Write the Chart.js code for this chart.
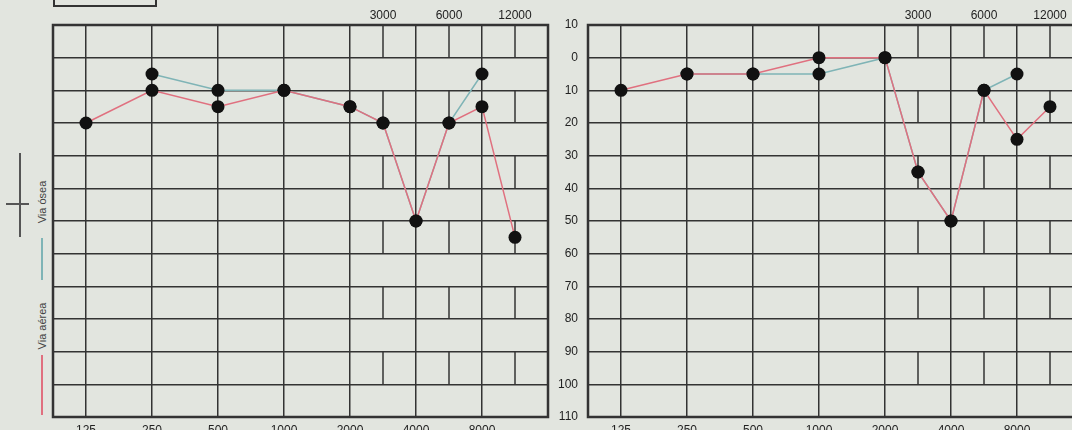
<!DOCTYPE html>
<html>
<head>
<meta charset="utf-8">
<script src="https://cdn.jsdelivr.net/npm/chart.js@4"></script>
<style>
  body { margin:0; width:1072px; height:430px; overflow:hidden; position:relative;
         background:#e2e5df; font-family:"Liberation Sans", Arial, sans-serif; color:#222; }
  .wrap { position:absolute; top:0; height:450px; width:560px; }
  .box { position:absolute; left:53px; top:-20px; width:100px; height:23px; border:2px solid #333; }
  .ln { position:absolute; }
  .vtxt { position:absolute; transform:translate(-50%,-50%) rotate(-90deg); white-space:nowrap;
          font-size:11px; color:#444; }
</style>
</head>
<body>
<div class="box"></div>

<!-- leyenda lateral -->
<div class="ln" style="left:19px;top:153px;width:1.5px;height:84px;background:#555"></div>
<div class="ln" style="left:6px;top:203px;width:23px;height:1.5px;background:#555"></div>
<div class="vtxt" style="left:42px;top:202px">Via ósea</div>
<div class="ln" style="left:41px;top:238px;width:1.5px;height:42px;background:#7fb4b6"></div>
<div class="vtxt" style="left:42px;top:326px">Via aérea</div>
<div class="ln" style="left:41px;top:355px;width:1.5px;height:60px;background:#e0707f"></div>

<div class="wrap" style="left:0"><canvas id="leftChart"></canvas></div>
<div class="wrap" style="left:540px"><canvas id="rightChart"></canvas></div>

<script>
// frecuencias (Hz)
const freqs = [125, 250, 500, 1000, 2000, 3000, 4000, 6000, 8000, 12000];
const boneFreqs = [250, 500, 1000, 2000, 3000, 4000, 6000, 8000];
const bottomTicks = [125, 250, 500, 1000, 2000, 4000, 8000];
const topTicks = [3000, 6000, 12000];

// audiograma izquierdo (dB)
const leftAir = [20, 10, 15, 10, 15, 20, 50, 20, 15, 55];
const leftBone = [5, 10, 10, 15, 20, 50, 20, 5];

// audiograma derecho (dB)
const rightAir = [10, 5, 5, 0, 0, 35, 50, 10, 25, 15];
const rightBone = [5, 5, 5, 0, 35, 50, 10, 5];

// posicion en octavas (3000, 6000 y 12000 van a media octava, como en el audiograma)
const octave = { 125: 0, 250: 1, 500: 2, 1000: 3, 2000: 4, 3000: 4.5,
                 4000: 5, 6000: 5.5, 8000: 6, 12000: 6.5 };
const freqAt = {};
Object.keys(octave).forEach(f => { freqAt[octave[f]] = f; });

const gridColor = '#333';
const airColor = '#e0707f';
const boneColor = '#7fb4b6';
const fnt = { family: '"Liberation Sans", Arial, sans-serif', size: 12 };

// lineas de media octava (en "ladrillo") + marco
const bricks = {
  id: 'bricks',
  beforeDatasetsDraw(chart) {
    const { ctx, chartArea: a, scales } = chart;
    ctx.save();
    ctx.strokeStyle = gridColor;
    ctx.lineWidth = 1.5;
    topTicks.forEach(f => {
      const x = scales.x.getPixelForValue(octave[f]);
      [-10, 10, 30, 50, 70, 90].forEach(r => {
        ctx.beginPath();
        ctx.moveTo(x, scales.y.getPixelForValue(r));
        ctx.lineTo(x, scales.y.getPixelForValue(r + 10));
        ctx.stroke();
      });
    });
    ctx.lineWidth = 2.5;
    ctx.strokeRect(a.left, a.top, a.right - a.left, a.bottom - a.top);
    ctx.restore();
  }
};

function toPts(xs, ys) {
  return xs.map((f, i) => ({ x: octave[f], y: ys[i] }));
}

function makeChart(id, air, bone, showY) {
  const pt = { pointRadius: 6.5, pointBackgroundColor: '#111', pointBorderWidth: 0, borderWidth: 1.5 };
  new Chart(document.getElementById(id), {
    type: 'line',
    data: {
      datasets: [
        Object.assign({ data: toPts(freqs, air), borderColor: airColor }, pt),
        Object.assign({ data: toPts(boneFreqs, bone), borderColor: boneColor }, pt)
      ]
    },
    options: {
      responsive: true,
      maintainAspectRatio: false,
      animation: false,
      layout: { padding: { left: showY ? 0 : 53, right: showY ? 17 : 12, top: 0, bottom: 0 } },
      elements: { line: { tension: 0 } },
      plugins: { legend: { display: false }, tooltip: { enabled: false } },
      scales: {
        x: {
          type: 'linear', position: 'bottom', min: -0.5, max: 7,
          afterBuildTicks: s => { s.ticks = bottomTicks.map(f => ({ value: octave[f] })); },
          afterFit: s => { s.height = 33; },
          ticks: { autoSkip: false, maxRotation: 0, padding: 6, color: '#222', font: fnt,
                   callback: v => freqAt[v] },
          grid: { color: gridColor, lineWidth: 1.5, drawTicks: false },
          border: { display: false }
        },
        x2: {
          type: 'linear', position: 'top', min: -0.5, max: 7,
          afterBuildTicks: s => { s.ticks = topTicks.map(f => ({ value: octave[f] })); },
          afterFit: s => { s.height = 25; },
          ticks: { autoSkip: false, maxRotation: 0, padding: 2, color: '#222', font: fnt,
                   callback: v => freqAt[v] },
          grid: { display: false, drawTicks: false },
          border: { display: false }
        },
        y: {
          min: -10, max: 110, reverse: true,
          afterFit: s => { s.width = showY ? 48 : 0; },
          ticks: { stepSize: 10, display: showY, padding: 10, color: '#222', font: fnt,
                   callback: v => String(Math.abs(v)) },
          grid: { color: gridColor, lineWidth: 1.5, drawTicks: false },
          border: { display: false }
        }
      }
    },
    plugins: [bricks]
  });
}

makeChart('leftChart', leftAir, leftBone, false);
makeChart('rightChart', rightAir, rightBone, true);
</script>
</body>
</html>
